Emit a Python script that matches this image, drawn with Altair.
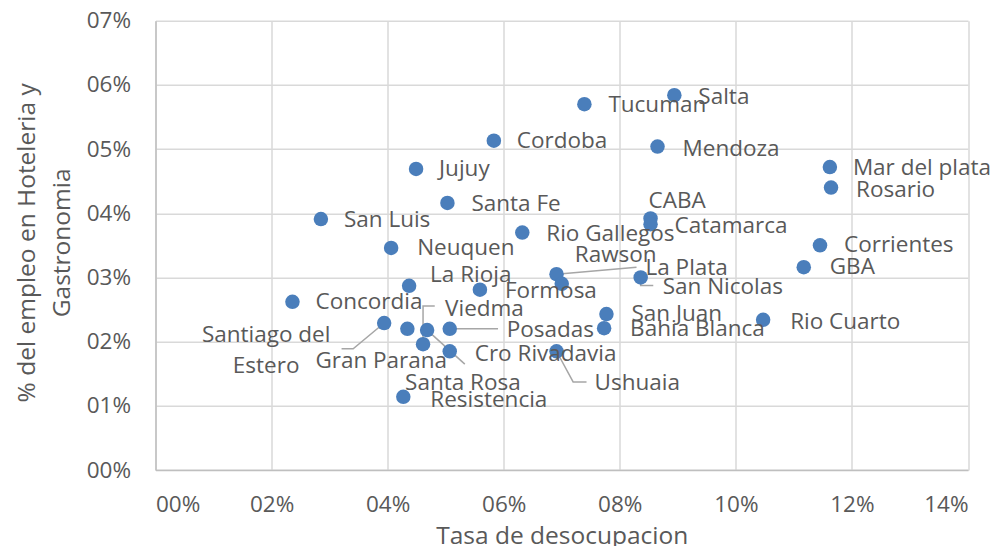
import altair as alt
import pandas as pd

# ---- data ----
ciudades = [
    "Salta", "Tucuman", "Cordoba", "Mendoza", "Jujuy", "Mar del plata", "Rosario",
    "Santa Fe", "CABA", "Catamarca", "San Luis", "Rio Gallegos", "Corrientes",
    "Neuquen", "GBA", "La Plata", "Rawson", "San Nicolas", "La Rioja", "Formosa",
    "Concordia", "Santiago del Estero", "Gran Parana", "Santa Rosa", "Posadas",
    "Viedma", "Cro Rivadavia", "Ushuaia", "Resistencia", "San Juan",
    "Bahia Blanca", "Rio Cuarto",
]
# Tasa de desocupacion (%)
desocupacion = [
    8.94, 7.39, 5.83, 8.65, 4.49, 11.62, 11.64,
    5.03, 8.53, 8.53, 2.85, 6.32, 11.45,
    4.06, 11.17, 6.91, 7.00, 8.36, 4.37, 5.59,
    2.36, 3.94, 4.34, 4.68, 5.07,
    4.61, 5.07, 6.91, 4.27, 7.77,
    7.73, 10.47,
]
# % del empleo en Hoteleria y Gastronomia
empleo_hg = [
    5.84, 5.70, 5.13, 5.04, 4.69, 4.72, 4.40,
    4.16, 3.92, 3.83, 3.91, 3.70, 3.50,
    3.46, 3.16, 3.05, 2.90, 3.00, 2.87, 2.81,
    2.62, 2.29, 2.20, 2.18, 2.20,
    1.96, 1.85, 1.85, 1.14, 2.43,
    2.21, 2.34,
]
x_ticks = [0, 0.02, 0.04, 0.06, 0.08, 0.10, 0.12, 0.14]
y_ticks = [0, 0.01, 0.02, 0.03, 0.04, 0.05, 0.06, 0.07]

# ---- layout (label placement, in pixels relative to each point) ----
W, H = 812.5, 449.3
XMAX, YMAX = 0.14, 0.07
PX_X = W / XMAX
PX_Y = H / YMAX

label_offsets = {
    "Salta": (24, 2), "Tucuman": (24, 1), "Cordoba": (23, 0), "Mendoza": (25, 2),
    "Jujuy": (23, 0), "Mar del plata": (23, 1), "Rosario": (25, 2), "Santa Fe": (24, 1),
    "CABA": (-2, -17), "Catamarca": (24, 2), "San Luis": (23, 1), "Rio Gallegos": (24, 1),
    "Corrientes": (24, 0), "Neuquen": (26, 0), "GBA": (26, 0), "La Plata": (89, -6),
    "Rawson": (13, -29), "San Nicolas": (22, 10), "La Rioja": (21, -11), "Formosa": (25, 1),
    "Concordia": (23, 0), "Santiago del Estero": (-118, 12), "Gran Parana": (-92, 32),
    "Santa Rosa": (-22, 53), "Posadas": (57, 1), "Viedma": (22, -35),
    "Cro Rivadavia": (25, 3), "Ushuaia": (38, 32), "Resistencia": (27, 3),
    "San Juan": (25, 0), "Bahia Blanca": (26, 1), "Rio Cuarto": (27, 2),
}
leader_paths = {
    "La Plata": [(0, 0), (80, -7)],
    "San Nicolas": [(0, 0), (0, 8), (12.6, 8)],
    "Santiago del Estero": [(0, 0), (-31, 25.7), (-42.6, 25.7)],
    "Santa Rosa": [(0, 0), (37.7, 34)],
    "Posadas": [(0, 0), (48.3, 0)],
    "Viedma": [(0, 0), (0, -38.3), (11.7, -38.3)],
    "Ushuaia": [(0, 0), (16.6, 30.7), (30, 30.7)],
}

df = pd.DataFrame({
    "Ciudad": ciudades,
    "x": [v / 100 for v in desocupacion],
    "y": [v / 100 for v in empleo_hg],
})
df["lx"] = [x + label_offsets[c][0] / PX_X for c, x in zip(df.Ciudad, df.x)]
df["ly"] = [y - label_offsets[c][1] / PX_Y for c, y in zip(df.Ciudad, df.y)]
df["texto"] = df.Ciudad

rows = []
for c, pts in leader_paths.items():
    base = df[df.Ciudad == c].iloc[0]
    for i, (dx, dy) in enumerate(pts):
        rows.append({"Ciudad": c, "i": i, "x": base.x + dx / PX_X, "y": base.y - dy / PX_Y})
leaders = pd.DataFrame(rows)

FONT = "Open Sans"
GRAY = "#595959"
FS = 22.5
TFS = 24.5

label_expr = "(round(datum.value*100) < 10 ? '0' : '') + round(datum.value*100) + '%'"

x_scale = alt.Scale(domain=[0, XMAX], nice=False, zero=True)
y_scale = alt.Scale(domain=[0, YMAX], nice=False, zero=True)

x_axis = alt.Axis(values=x_ticks, labelExpr=label_expr, title="Tasa de desocupacion",
                  labelPadding=23, titleY=66, titleBaseline="middle")
y_axis = alt.Axis(values=y_ticks, labelExpr=label_expr,
                  title=["% del empleo en Hoteleria y", "Gastronomia"],
                  labelPadding=25, titleX=-128.5, titleY=H / 2 - 3, titleAngle=-90,
                  titleAlign="center", titleBaseline="middle", titleLineHeight=35)


def enc_x(field):
    return alt.X(f"{field}:Q", scale=x_scale, axis=x_axis)


def enc_y(field):
    return alt.Y(f"{field}:Q", scale=y_scale, axis=y_axis)


lines = alt.Chart(leaders).mark_line(color="#a6a6a6", strokeWidth=1.5).encode(
    x=enc_x("x"), y=enc_y("y"), detail="Ciudad:N", order="i:Q"
)

points = alt.Chart(df).mark_circle(size=210, opacity=1, color="#4A7EBB").encode(
    x=enc_x("x"), y=enc_y("y")
)

labels = alt.Chart(df).transform_filter(
    "datum.Ciudad != 'Santiago del Estero'"
).mark_text(align="left", baseline="middle", font=FONT, fontSize=FS, color=GRAY).encode(
    x=enc_x("lx"), y=enc_y("ly"), text="texto:N"
)

santiago = alt.Chart(df).transform_filter(
    "datum.Ciudad == 'Santiago del Estero'"
).transform_calculate(
    texto2="replace(datum.Ciudad, ' del ', ' del\\n')"
).mark_text(align="center", baseline="middle", font=FONT, fontSize=FS, color=GRAY,
            lineBreak="\n", lineHeight=31).encode(
    x=enc_x("lx"), y=enc_y("ly"), text="texto2:N"
)

chart = alt.layer(lines, points, labels, santiago).properties(
    width=W, height=H,
    autosize=alt.AutoSizeParams(type="none"),
    padding={"left": 147.5, "top": 12.7, "right": 23, "bottom": 76},
).configure_view(stroke=None).configure_axis(
    grid=True, gridColor="#d9d9d9", gridWidth=1.5,
    domainColor="#bfbfbf", domainWidth=1.5,
    ticks=False,
    labelFont=FONT, labelFontSize=FS, labelColor=GRAY,
    titleFont=FONT, titleFontSize=TFS, titleColor=GRAY, titleFontWeight="normal",
)

chart.save("out.html", embed_options={"renderer": "svg", "actions": False})
